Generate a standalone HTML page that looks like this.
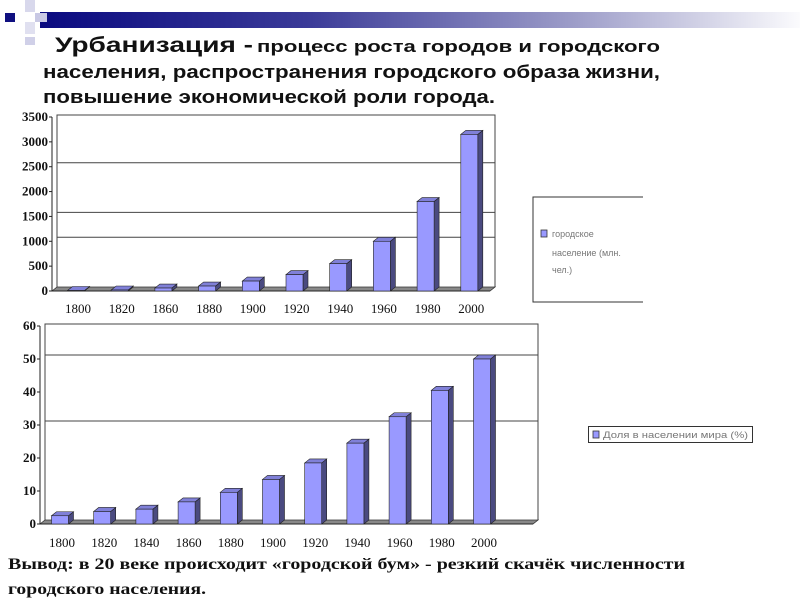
<!DOCTYPE html>
<html><head><meta charset="utf-8">
<style>
html,body{margin:0;padding:0;background:#fff;}
svg{display:block;}
.t{font-family:"Liberation Sans",sans-serif;font-weight:bold;fill:#111;}
.ax{font-family:"Liberation Serif",serif;font-size:13px;fill:#111;}
.bt{font-family:"Liberation Serif",serif;font-weight:bold;font-size:16px;fill:#111;}
.lg{font-family:"Liberation Sans",sans-serif;font-size:9px;fill:#777;}
</style></head>
<body>
<svg id="s" width="800" height="600" viewBox="0 0 800 600" xmlns="http://www.w3.org/2000/svg">
<defs>
<linearGradient id="hb" x1="0" x2="1" y1="0" y2="0">
<stop offset="0" stop-color="#0a0a80"/><stop offset="0.35" stop-color="#3a3a98"/><stop offset="0.7" stop-color="#9c9cc8"/><stop offset="1" stop-color="#fbfbfd"/>
</linearGradient>
</defs>
<g>
<rect x="40" y="12" width="760" height="16" fill="url(#hb)"/>
<rect x="5" y="13" width="10" height="9" fill="#101080"/>
<rect x="25" y="0" width="10" height="12" fill="#d8d8ec"/>
<rect x="35" y="13" width="12" height="9" fill="#c8c8e4"/>
<rect x="25" y="22" width="10" height="12" fill="#e0e0f0"/>
<rect x="25" y="37" width="10" height="8" fill="#d0d0e8"/>
</g>
<g>
<text class="t" x="55" y="52" font-size="21" textLength="198" lengthAdjust="spacingAndGlyphs">Урбанизация -</text>
<text class="t" x="257" y="52" font-size="17" textLength="403" lengthAdjust="spacingAndGlyphs">процесс роста городов и городского</text>
<text class="t" x="43" y="78" font-size="18" textLength="617" lengthAdjust="spacingAndGlyphs">населения, распространения городского образа жизни,</text>
<text class="t" x="43" y="103" font-size="18" textLength="452" lengthAdjust="spacingAndGlyphs">повышение экономической роли города.</text>
</g>
<g id="c1"></g>
<g id="c2"></g>
<g>
<path d="M643 197 H533 V302 H643" fill="none" stroke="#333" stroke-width="1"/>
<rect x="541" y="230" width="6" height="7" fill="#9999ff" stroke="#333" stroke-width="0.8"/>
<text class="lg" x="552" y="237">городское</text>
<text class="lg" x="552" y="256">население (млн.</text>
<text class="lg" x="552" y="273">чел.)</text>
</g>
<g>
<rect x="588.5" y="426.5" width="164" height="16" fill="#fff" stroke="#333" stroke-width="1"/>
<rect x="593" y="431" width="6" height="7" fill="#9999ff" stroke="#333" stroke-width="0.8"/>
<text class="lg" x="603" y="438" textLength="145" lengthAdjust="spacingAndGlyphs">Доля в населении мира (%)</text>
</g>
<g>
<text class="bt" x="8" y="569" textLength="677" lengthAdjust="spacingAndGlyphs">Вывод: в 20 веке происходит «городской бум» - резкий скачёк численности</text>
<text class="bt" x="8" y="594" textLength="198" lengthAdjust="spacingAndGlyphs">городского населения.</text>
</g>
</svg>
<script>
const cats1 = ["1800","1820","1860","1880","1900","1920","1940","1960","1980","2000"];
const vals1 = [10,20,60,100,200,330,550,1000,1800,3150];
const ticks1 = [0,500,1000,1500,2000,2500,3000,3500];
const grid1 = [1000,1500,2500];
const cats2 = ["1800","1820","1840","1860","1880","1900","1920","1940","1960","1980","2000"];
const vals2 = [2.5,3.8,4.5,6.7,9.6,13.5,18.5,24.5,32.5,40.5,50];
const ticks2 = [0,10,20,30,40,50,60];
const grid2 = [30,50];
const NS="http://www.w3.org/2000/svg";
function mk(p,tag,at){const e=document.createElementNS(NS,tag);for(const k in at)e.setAttribute(k,at[k]);p.appendChild(e);return e;}
function chart(g,cats,vals,ticks,grid,o){
  const max=ticks[ticks.length-1];
  const y=v=>o.base-(v/max)*(o.base-o.top);
  const x=i=>o.x0+i*o.step;
  const dx=5,dy=4;
  mk(g,'path',{d:`M${o.left+dx} ${o.base-dy} V${o.top-2} H${o.right} V${o.base-dy}`,fill:'none',stroke:'#444','stroke-width':1});
  grid.forEach(v=>{const l=mk(g,'line',{x1:o.left+dx,x2:o.right,y1:y(v)-dy,y2:y(v)-dy,stroke:'#444','stroke-width':1});
    
    });
  mk(g,'path',{d:`M${o.left} ${o.base} L${o.left+dx} ${o.base-dy} H${o.right} L${o.right-dx} ${o.base} Z`,fill:'#888',stroke:'#333','stroke-width':0.8});
  mk(g,'line',{x1:o.left,x2:o.left,y1:o.top,y2:o.base,stroke:'#222','stroke-width':1});
  ticks.forEach(v=>{
    mk(g,'line',{x1:o.left-3,x2:o.left,y1:y(v),y2:y(v),stroke:'#222'});
    const t=mk(g,'text',{class:'ax',x:o.left-4,y:y(v)+4,'text-anchor':'end','font-weight':'bold'});
    t.textContent=v;
    
    
  });
  mk(g,'line',{x1:o.left,x2:o.right-dx,y1:o.base,y2:o.base,stroke:'#222'});
  cats.forEach((c,i)=>{
    const cx=x(i),w=o.bw,yt=y(vals[i]),x1=cx-w/2;
    const b=mk(g,'g',{});
    
    
    mk(b,'path',{d:`M${x1+w} ${yt} l${dx} ${-dy} V${o.base-dy} l${-dx} ${dy} Z`,fill:'#4a4a80',stroke:'#222','stroke-width':0.6});
    mk(b,'path',{d:`M${x1} ${yt} l${dx} ${-dy} h${w} l${-dx} ${dy} Z`,fill:'#8080d8',stroke:'#222','stroke-width':0.6});
    mk(b,'rect',{x:x1,y:yt,width:w,height:o.base-yt,fill:'#9999ff',stroke:'#222','stroke-width':0.6});
    const t=mk(g,'text',{class:'ax',x:cx+2,y:o.lab,'text-anchor':'middle'});
    t.textContent=c;
    
    
  });
}
chart(document.getElementById('c1'),cats1,vals1,ticks1,grid1,{left:52,right:495,top:117,base:291,x0:76,step:43.7,bw:17,lab:313});
chart(document.getElementById('c2'),cats2,vals2,ticks2,grid2,{left:40,right:538,top:326,base:524,x0:60,step:42.2,bw:17,lab:547});
</script>
</body></html>
